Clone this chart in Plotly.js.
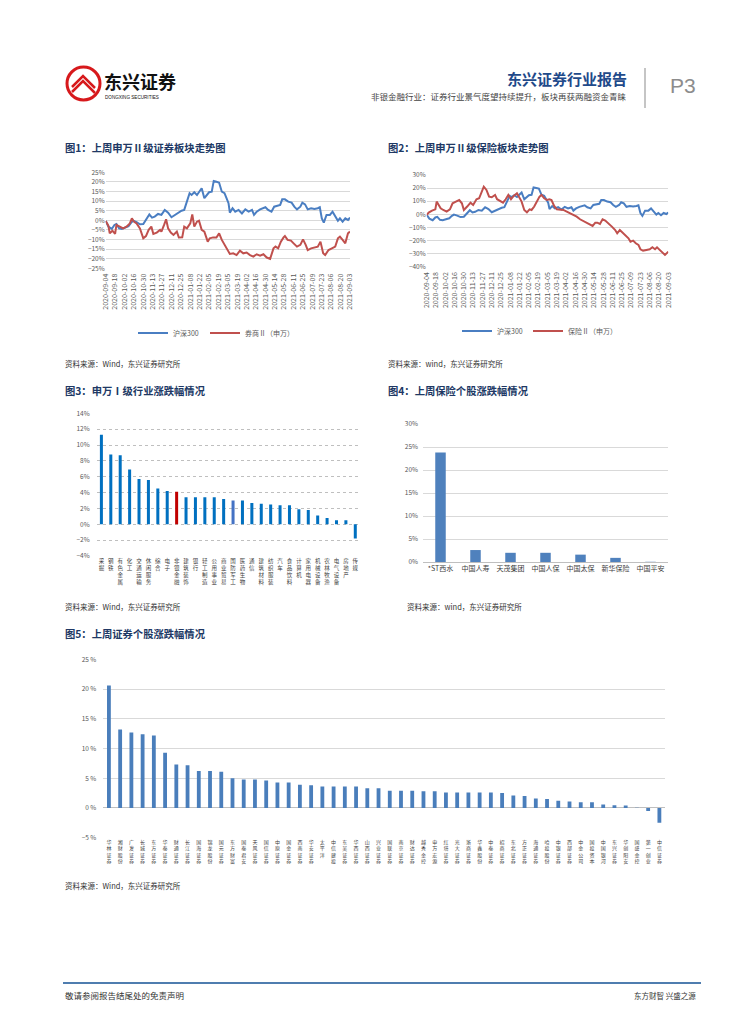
<!DOCTYPE html>
<html>
<head>
<meta charset="utf-8">
<script src="https://cdn.plot.ly/plotly-3.0.1.min.js"></script>
<style>
html,body{margin:0;padding:0;background:#fff;}
#chart{width:755px;height:1024px;}
</style>
</head>
<body>
<div id="chart"></div>
<script>
// ---------- DATA ----------
const tickDays = [0,14,28,42,56,70,84,98,112,126,140,154,168,182,196,210,224,238,252,266,280,294,308,322,336,350,364];
const dateLabels = ['2020-09-04','2020-09-18','2020-10-02','2020-10-16','2020-10-30','2020-11-13','2020-11-27','2020-12-11','2020-12-25','2021-01-08','2021-01-22','2021-02-05','2021-02-19','2021-03-05','2021-03-19','2021-04-02','2021-04-16','2021-04-30','2021-05-14','2021-05-28','2021-06-11','2021-06-25','2021-07-09','2021-07-23','2021-08-06','2021-08-20','2021-09-03'];

// 沪深300 (cumulative %, day offset from 2020-09-04)
const hs300Days = [0,4,9,13,16,20,24,29,34,38,41,46,51,56,60,65,69,73,78,83,88,93,98,103,108,113,117,121,125,128,132,136,139,143,147,150,154,158,161,165,169,173,177,180,183,185,189,193,198,203,208,213,218,221,225,230,235,238,242,247,251,256,260,263,267,272,277,281,285,290,293,297,301,306,311,316,319,322,325,329,334,338,342,346,349,353,357,361,364];
const hs300Vals = [-0.3,-3.3,-4.5,-2.4,-1.9,-4.2,-4.5,-3.8,-3.0,-1.2,-0.2,-1.0,-2.1,-1.9,0.2,3.1,1.4,1.9,3.3,2.8,5.4,4.0,1.6,2.8,4.0,5.0,5.4,9.7,14.1,13.2,14.6,13.2,14.9,16.7,11.5,12.7,14.6,14.9,20.5,20.1,19.6,14.9,14.1,11.5,8.9,4.0,6.3,4.5,5.4,3.6,5.7,4.5,5.4,2.8,4.5,5.7,6.3,6.8,5.4,4.5,7.1,7.6,8.0,10.9,10.9,9.7,9.2,7.1,5.7,7.1,9.2,8.3,5.7,6.3,5.9,6.3,6.8,1.0,-1.2,2.8,2.8,4.5,1.9,-0.2,1.0,-0.7,1.0,0.2,1.4];

// 券商Ⅱ（申万）
const brokerDays = [0,4,6,10,14,16,21,26,31,36,39,42,46,51,56,60,64,68,71,76,81,83,87,90,93,97,101,106,109,114,117,121,126,129,132,136,139,143,147,152,155,160,165,169,173,177,180,185,190,195,200,205,210,215,220,225,230,235,240,245,250,253,257,261,265,267,271,276,280,285,290,294,298,301,306,311,316,320,324,327,332,337,342,346,349,353,357,361,364];
const brokerVals = [-0.3,-2.8,-6.8,-5.4,-7.1,-2.4,-3.3,-4.2,-3.3,-1.6,1.0,-0.7,-1.6,-4.2,-9.4,-8.2,-5.0,-3.3,-7.1,-6.4,-5.0,-5.9,-2.4,0.5,-4.2,-6.4,-7.6,-5.9,-9.0,-8.9,-3.3,-4.2,-1.6,3.1,-3.3,-0.7,-0.2,-5.0,-5.9,-11.1,-9.4,-8.9,-9.0,-6.8,-10.2,-12.8,-14.1,-17.5,-17.2,-18.1,-15.8,-17.2,-16.8,-18.1,-18.9,-17.7,-18.4,-17.7,-19.4,-20.1,-14.6,-13.7,-14.6,-11.1,-8.9,-8.2,-10.2,-10.6,-12.0,-13.7,-12.8,-9.9,-12.8,-15.5,-14.6,-14.1,-13.7,-11.1,-17.2,-18.1,-15.5,-14.6,-13.7,-9.4,-8.5,-10.2,-12.0,-6.8,-5.9];

// 保险Ⅱ（申万）
const insurDays = [0,3,8,13,15,18,21,25,30,35,39,44,49,53,56,61,66,70,75,79,83,86,90,94,98,103,106,110,115,119,123,127,131,136,140,143,147,151,155,158,162,166,170,173,177,181,185,188,192,196,201,206,211,216,221,226,231,236,241,246,250,254,257,261,265,269,274,279,284,287,291,295,300,304,307,311,315,319,322,326,331,336,340,344,347,351,355,359,364];
const insurVals = [-0.5,1.3,2.8,3.8,9.7,7.1,4.6,3.3,2.0,3.8,8.4,9.7,10.9,8.4,3.3,5.9,8.9,7.1,11.5,12.2,17.3,21.1,18.6,13.5,13.0,14.8,11.5,10.4,8.9,11.5,14.8,11.5,14.0,16.0,12.2,9.7,3.3,1.5,3.8,3.3,5.9,9.7,13.5,14.8,12.2,10.9,11.5,10.9,6.4,3.8,3.8,3.3,2.0,0.8,-0.5,-1.8,-3.8,-5.1,-6.9,-8.1,-8.9,-6.4,-6.4,-7.4,-3.8,-4.8,-6.9,-9.4,-12.0,-14.5,-12.0,-14.0,-16.5,-18.3,-20.9,-20.1,-22.1,-23.4,-26.7,-27.7,-27.2,-26.7,-25.2,-26.7,-25.2,-27.2,-29.8,-31.0,-28.5,-27.7];

// 图3 申万一级行业
const industries = ['采掘','钢铁','有色金属','化工','交通运输','休闲服务','综合','电子','非银金融','建筑装饰','银行','轻工制造','公用事业','商业贸易','国防军工','医药生物','通信','建筑材料','纺织服装','汽车','食品饮料','计算机','家用电器','机械设备','农林牧渔','电气设备','房地产','传媒'];
const industryVals = [11.3,8.8,8.7,6.9,5.7,5.6,4.5,4.2,4.1,3.4,3.4,3.4,3.4,3.2,3.0,3.0,2.7,2.6,2.5,2.4,2.4,1.9,1.8,1.1,0.8,0.5,0.5,-1.8];

// 图4 保险个股
const insurers = ['*ST西水','中国人寿','天茂集团','中国人保','中国太保','新华保险','中国平安'];
const insurerVals = [23.8,2.6,2.0,2.0,1.6,0.9,0.05];

// 图5 证券个股
const brokers = ['华林证券','湘财股份','广发证券','长城证券','东方证券','华泰证券','财通证券','长江证券','国海证券','锦龙股份','国元证券','东方财富','国泰君安','天风证券','国信证券','中原证券','国金证券','西南证券','华安证券','太平洋','中信建投','东吴证券','华西证券','山西证券','兴业证券','国联证券','南京证券','财达证券','越秀金控','申万宏源','红塔证券','光大证券','浙商证券','华鑫股份','中泰证券','招商证券','东北证券','方正证券','海通证券','哈投股份','中银证券','西部证券','中金公司','国投资本','中国银河','东兴证券','华创阳安','国盛金控','第一创业','中信证券'];
const brokerStockVals = [20.6,13.2,12.7,12.4,12.2,9.3,7.3,7.2,6.2,6.2,6.1,5.0,4.8,4.8,4.6,4.3,4.3,3.9,3.8,3.6,3.6,3.6,3.6,3.3,3.3,2.9,2.9,2.9,2.8,2.8,2.6,2.6,2.6,2.6,2.6,2.5,2.1,2.0,1.6,1.5,1.2,1.1,0.95,0.95,0.6,0.45,0.4,0.02,-0.5,-2.5];

// ---------- LAYOUT HELPERS ----------
const W = 755, H = 1024;
const px = x => x / W;
const py = y => 1 - y / H;
const CJK = 'Noto Sans CJK SC, Noto Sans, sans-serif';
const tickFont = {family: CJK, size: 6.5, color: '#595959'};
const dateFont = {family: CJK, size: 7, color: '#595959'};
const BLUE = '#4A7EC2', RED = '#C0504D';
const stack = s => s.split('').join('<br>');

const traces = [
  {x: hs300Days, y: hs300Vals, type: 'scatter', mode: 'lines', name: '沪深300', line: {color: BLUE, width: 2}, xaxis: 'x', yaxis: 'y', legend: 'legend'},
  {x: brokerDays, y: brokerVals, type: 'scatter', mode: 'lines', name: '券商Ⅱ（申万）', line: {color: RED, width: 2}, xaxis: 'x', yaxis: 'y', legend: 'legend2'},
  {x: hs300Days, y: hs300Vals, type: 'scatter', mode: 'lines', name: '沪深300', line: {color: BLUE, width: 2}, xaxis: 'x2', yaxis: 'y2', legend: 'legend3'},
  {x: insurDays, y: insurVals, type: 'scatter', mode: 'lines', name: '保险Ⅱ（申万）', line: {color: RED, width: 2}, xaxis: 'x2', yaxis: 'y2', legend: 'legend4'},
  {x: industries, y: industryVals, type: 'bar', width: 0.32, showlegend: false, xaxis: 'x3', yaxis: 'y3',
   marker: {color: industries.map(n => n === '非银金融' ? '#C00000' : (n === '国防军工' ? '#4472C4' : '#0070C0'))}},
  {x: insurers, y: insurerVals, type: 'bar', width: 0.3, showlegend: false, xaxis: 'x4', yaxis: 'y4',
   marker: {color: '#4F81BD'}},
  {x: brokers, y: brokerStockVals, type: 'bar', width: 0.34, showlegend: false, xaxis: 'x5', yaxis: 'y5',
   marker: {color: '#4A7EBB'}}
];

function yax(top, bottom, range, dtick, extra) {
  return Object.assign({
    domain: [py(bottom), py(top)], range: range, dtick: dtick, tick0: 0,
    ticksuffix: '%', tickfont: tickFont, showgrid: true, gridcolor: '#D9D9D9', gridwidth: 1,
    zeroline: false, showline: false, ticks: '', fixedrange: true
  }, extra || {});
}

const legendCommon = {xanchor: 'left', yanchor: 'middle', orientation: 'h', bgcolor: 'rgba(0,0,0,0)',
  font: {family: CJK, size: 7, color: '#595959'}, itemwidth: 30};
const leg = (x, y) => Object.assign({x: px(x), y: py(y)}, legendCommon);

const layout = {
  width: W, height: H, margin: {l: 0, r: 0, t: 0, b: 0},
  paper_bgcolor: '#fff', plot_bgcolor: 'rgba(0,0,0,0)',
  font: {family: CJK},
  showlegend: true,
  xaxis: {domain: [px(105.7), px(350)], range: [0, 364], tickvals: tickDays, ticktext: dateLabels,
          tickangle: -90, tickfont: dateFont, showgrid: false, zeroline: false, ticks: '', fixedrange: true, anchor: 'y', ticklabelstandoff: 3},
  yaxis: yax(172.3, 268.3, [-25, 25], 5, {anchor: 'x'}),
  xaxis2: {domain: [px(426.7), px(668.3)], range: [0, 364], tickvals: tickDays, ticktext: dateLabels,
          tickangle: -90, tickfont: dateFont, showgrid: false, zeroline: false, ticks: '', fixedrange: true, anchor: 'y2', ticklabelstandoff: 3},
  yaxis2: yax(175, 266.7, [-40, 30], 10, {anchor: 'x2'}),
  xaxis3: {domain: [px(96.7), px(360)], tickvals: industries, ticktext: industries.map(stack),
          tickangle: 0, tickfont: {family: CJK, size: 5.5, color: '#404040'}, showgrid: false, zeroline: false, ticks: '', fixedrange: true, anchor: 'y3', type: 'category'},
  yaxis3: yax(413.3, 556, [-4, 14], 2, {anchor: 'x3', griddash: 'dot', gridcolor: '#BFBFBF', ticklabelstandoff: 6}),
  xaxis4: {domain: [px(423), px(668)], tickfont: {family: CJK, size: 7, color: '#404040'}, showgrid: false, zeroline: false,
          showline: true, linecolor: '#BFBFBF', linewidth: 1, ticks: '', fixedrange: true, anchor: 'y4', type: 'category', tickangle: 0},
  yaxis4: yax(424, 562, [0, 30], 5, {anchor: 'x4', ticklabelstandoff: 4}),
  xaxis5: {domain: [px(103.3), px(665)], tickvals: brokers, ticktext: brokers.map(stack),
          tickangle: 0, tickfont: {family: CJK, size: 5, color: '#404040'}, showgrid: false, zeroline: false, ticks: '', fixedrange: true, anchor: 'y5', type: 'category'},
  yaxis5: yax(659.3, 837.7, [-5, 25], 5, {anchor: 'x5', ticksuffix: ' %', ticklabelstandoff: 6, zeroline: true, zerolinecolor: '#BFBFBF', zerolinewidth: 1}),
  legend: leg(133, 333),
  legend2: leg(205, 333),
  legend3: leg(457, 331),
  legend4: leg(528, 331),
  shapes: [
    // logo ring
    {type: 'circle', xref: 'paper', yref: 'paper', x0: px(67), x1: px(100), y0: py(100), y1: py(67), line: {color: '#D7191C', width: 3}, fillcolor: '#fff'},
    {type: 'path', xref: 'paper', yref: 'paper', path: `M ${px(72)} ${py(87)} L ${px(83)} ${py(76)} L ${px(95)} ${py(88)}`, line: {color: '#D7191C', width: 2.5}},
    {type: 'path', xref: 'paper', yref: 'paper', path: `M ${px(72)} ${py(92)} L ${px(83)} ${py(81)} L ${px(95)} ${py(93)}`, line: {color: '#D7191C', width: 2.5}},
    // header divider
    {type: 'line', xref: 'paper', yref: 'paper', x0: px(645), x1: px(645), y0: py(108), y1: py(68), line: {color: '#9E9E9E', width: 1.2}},
    // footer line
    {type: 'line', xref: 'paper', yref: 'paper', x0: px(63), x1: px(701), y0: py(983), y1: py(983), line: {color: '#4F7DAF', width: 2}}
  ],
  annotations: []
};

function txt(text, x, y, size, opts) {
  layout.annotations.push(Object.assign({
    text: text, x: px(x), y: py(y), xref: 'paper', yref: 'paper', showarrow: false,
    xanchor: 'left', yanchor: 'middle', font: {family: CJK, size: size, color: '#222'}
  }, opts || {}));
}

// header
txt('<b>东兴证券</b>', 102, 81, 18, {font: {family: CJK, size: 18, color: '#111'}});
txt('DONGXING SECURITIES', 103, 97, 4.6, {font: {family: 'Liberation Sans, sans-serif', size: 4.6, color: '#111'}});
txt('<b>东兴证券行业报告</b>', 629, 78, 15, {xanchor: 'right', font: {family: CJK, size: 15, color: '#1F4A8A'}});
txt('非银金融行业：证券行业景气度望持续提升，板块再获两融资金青睐', 629, 96, 8.5, {xanchor: 'right', font: {family: CJK, size: 8.5, color: '#444'}});
txt('P3', 668, 85, 21, {font: {family: 'Liberation Sans, sans-serif', size: 21, color: '#8C8C8C'}});

// figure titles
const titleFont = {family: CJK, size: 10.3, color: '#203864'};
txt('<b>图1：上周申万Ⅱ级证券板块走势图</b>', 63, 147, 10.3, {font: titleFont});
txt('<b>图2：上周申万Ⅱ级保险板块走势图</b>', 386, 147, 10.3, {font: titleFont});
txt('<b>图3：申万Ⅰ级行业涨跌幅情况</b>', 63, 390, 10.3, {font: titleFont});
txt('<b>图4：上周保险个股涨跌幅情况</b>', 386, 390, 10.3, {font: titleFont});
txt('<b>图5：上周证券个股涨跌幅情况</b>', 63, 633, 10.3, {font: titleFont});

// sources
const srcFont = {family: CJK, size: 7.5, color: '#333'};
txt('资料来源：Wind，东兴证券研究所', 63, 363, 7.5, {font: srcFont});
txt('资料来源：wind，东兴证券研究所', 386, 363, 7.5, {font: srcFont});
txt('资料来源：Wind，东兴证券研究所', 63, 606, 7.5, {font: srcFont});
txt('资料来源：wind，东兴证券研究所', 405, 606, 7.5, {font: srcFont});
txt('资料来源：Wind，东兴证券研究所', 63, 885, 7.5, {font: srcFont});

// footer
txt('敬请参阅报告结尾处的免责声明', 63, 995, 8.5, {font: {family: CJK, size: 8.5, color: '#333'}});
txt('东方财智 兴盛之源', 698, 995, 7.5, {xanchor: 'right', font: srcFont});

Plotly.newPlot('chart', traces, layout, {staticPlot: true, displayModeBar: false});
</script>
</body>
</html>
